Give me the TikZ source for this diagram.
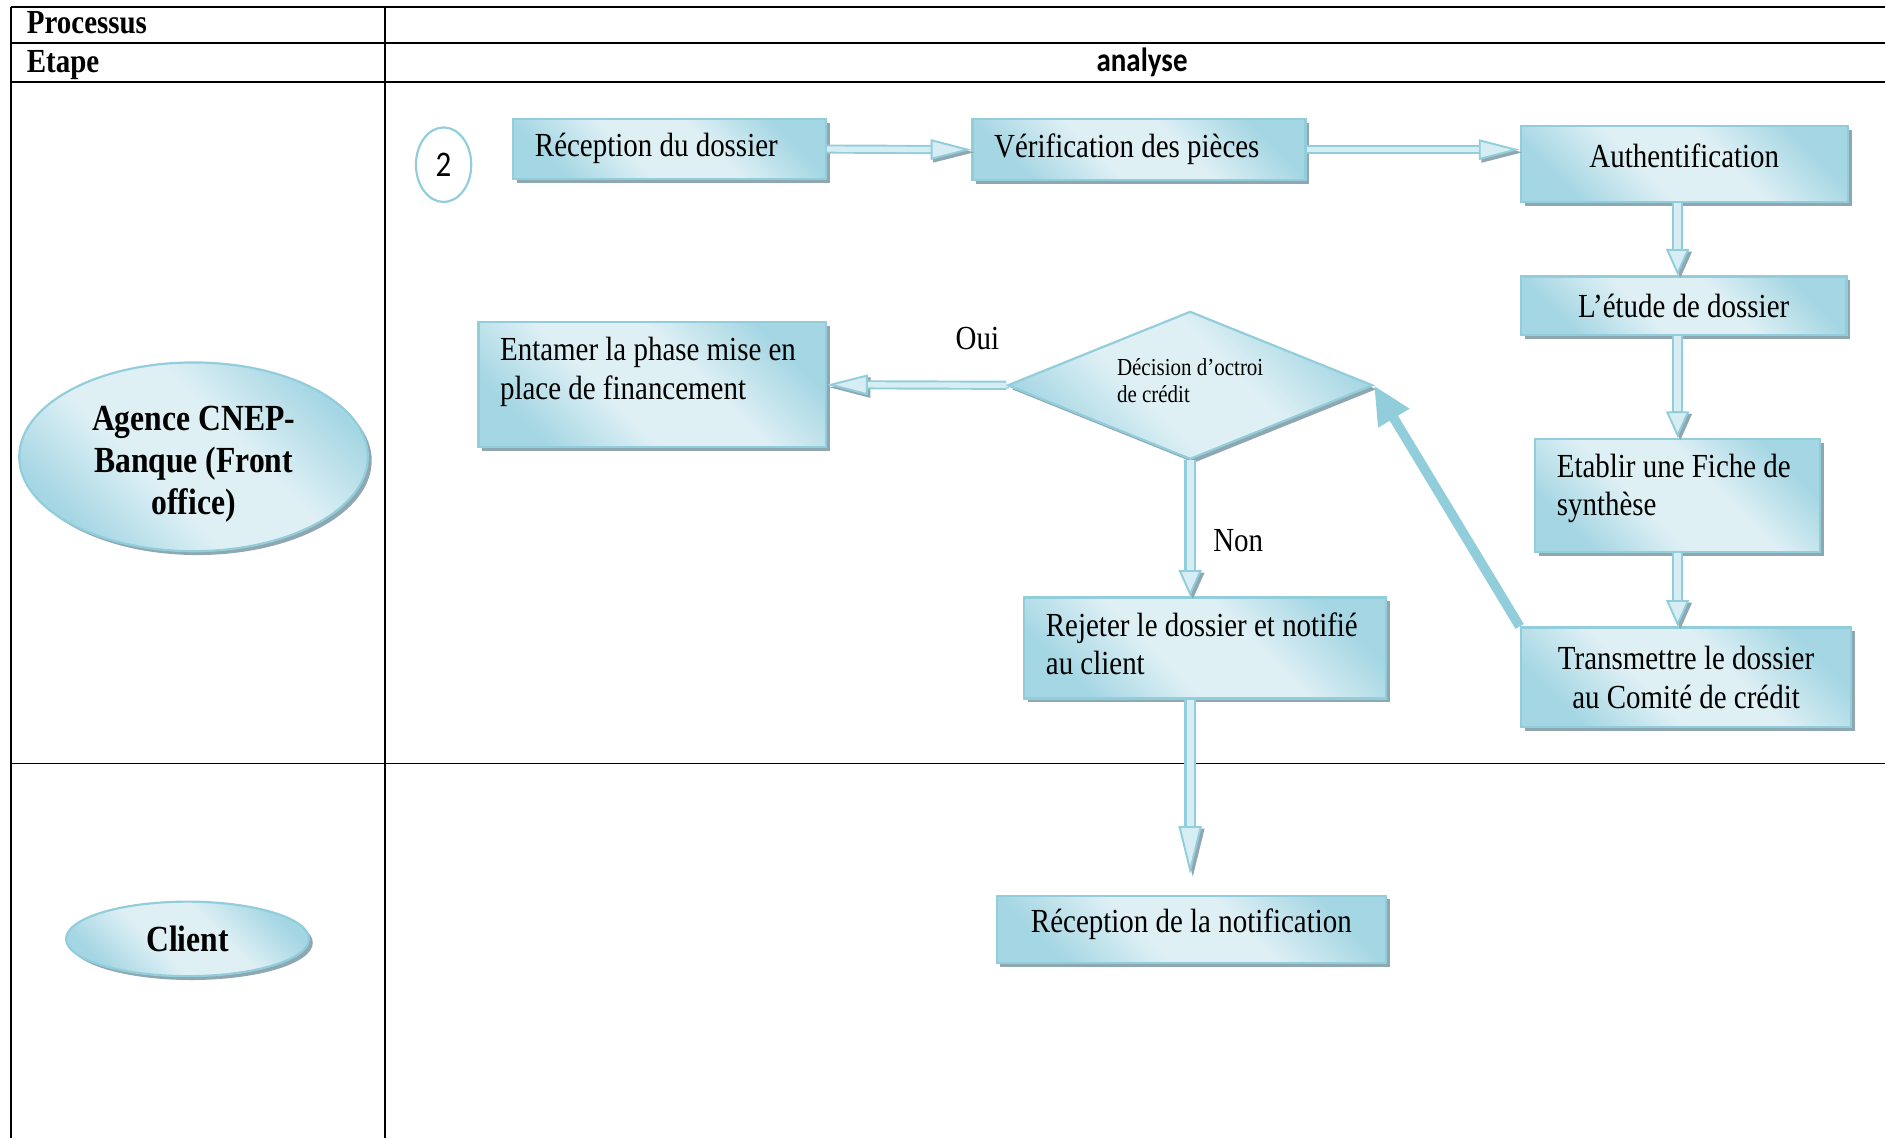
\documentclass[tikz,border=0pt]{standalone}
\usepackage{fontspec}
\setmainfont{Liberation Serif}[FakeStretch=0.86]
\newfontfamily\calibri{Carlito}[FakeStretch=0.86]
\usetikzlibrary{shapes.geometric,arrows.meta,shadows}

\definecolor{edgec}{HTML}{92CDDC}
\definecolor{shdark}{HTML}{A4D6E3}
\definecolor{shlight}{HTML}{DFF0F5}
\definecolor{shadowc}{HTML}{8EA7B1}
\definecolor{arrowin}{HTML}{D6EDF3}

\pgfdeclarehorizontalshading{bluebox}{100bp}{%
  color(0bp)=(shdark); color(25bp)=(shdark); color(42bp)=(shlight);
  color(58bp)=(shlight); color(75bp)=(shdark); color(100bp)=(shdark)}

% invisible rule that deepens the last line (moves the text block upwards)
\newcommand\padbelow[1]{\rule[-#1]{0pt}{#1}}
% left-aligned block of fixed width
\newcommand\leftblock[2]{\begin{tabular}{@{}p{#1}@{}}#2\end{tabular}}
\newcommand\bodyfont{\fontsize{14}{16}\selectfont}
\newcommand\lanefont{\fontsize{15.3}{17.5}\selectfont\bfseries}

\tikzset{
  gridline/.style={draw=black, line width=0.7pt},
  shadowed/.style={drop shadow={shadow xshift=1.6pt, shadow yshift=-1.6pt, fill=shadowc, opacity=1}},
  bluefill/.style={shade, shading=bluebox, shading angle=45},
  box/.style={rectangle, draw=edgec, line width=0.9pt, bluefill, shadowed,
    inner sep=0pt, font=\bodyfont, align=center},
  lbox/.style={rectangle, draw=edgec, line width=0.9pt, bluefill, shadowed,
    inner sep=0pt, font=\bodyfont},
  lane/.style={ellipse, draw=edgec, line width=0.9pt, bluefill, shadowed,
    inner sep=0pt, align=center, font=\lanefont},
  decision/.style={diamond, draw=edgec, line width=0.9pt, bluefill, shadowed,
    inner sep=0pt, align=left},
  hdr/.style={font=\fontsize{14}{16}\selectfont\bfseries, inner sep=0pt, anchor=base west},
  % hollow block arrow: head length, head width, shaft width, inner shaft width
  blockarrow/.style n args={4}{draw=edgec, line width=#3,
    -{Triangle[length=#1, width=#2, line width=0.8pt, fill=arrowin]},
    preaction={draw=shadowc, -{Triangle[length=#1, width=#2, line width=0.8pt, fill=shadowc]},
      transform canvas={shift={(1.1pt,-1.1pt)}}},
    postaction={draw=arrowin, line width=#4, -, shorten >=#1}},
  hflow/.style={blockarrow={17pt}{8.5pt}{3.8pt}{2.2pt}},
  vflow/.style={blockarrow={#1}{9.6pt}{4.8pt}{3.0pt}},
  vflow/.default=11pt,
  feedback/.style={draw=edgec, line width=4pt, -{Triangle[length=16pt, width=14pt]}},
}

\begin{document}
\begin{tikzpicture}[x=0.5pt, y=-0.5pt]
\useasboundingbox (0,0) rectangle (1568,947);

% table grid
\draw[gridline] (9,6) -- (1568,6);
\draw[gridline] (9,36) -- (1568,36);
\draw[gridline] (9,68) -- (1568,68);
\draw[gridline] (9,635) -- (1568,635);
\draw[gridline] (9,6) -- (9,947);
\draw[gridline] (320,6) -- (320,947);

\node[hdr] (proc) at (22,28) {Processus};
\node[hdr] (etape) at (22,60) {Etape};
\node[font=\calibri\fontsize{14}{16}\selectfont\bfseries, inner sep=0pt] (stage) at (950,52) {analyse};

% swimlane actors
\node[lane, minimum width=145pt, minimum height=78.5pt] (agence) at (161,380)
  {\rule{0pt}{16.4pt}Agence CNEP-\\Banque (Front\\office)};
\node[lane, minimum width=101pt, minimum height=31pt] (client) at (156,781) {Client};

% step number
\node[ellipse, draw=edgec, line width=0.9pt, fill=white, minimum width=23pt,
  minimum height=31pt, inner sep=0pt, font=\calibri\fontsize{15}{16}\selectfont]
  (num) at (369,137) {2};

% process steps
\node[lbox, minimum width=130pt, minimum height=25pt]
  (recep) at (557,124) {\leftblock{112pt}{Réception du dossier}};
\node[lbox, minimum width=138.5pt, minimum height=25.5pt]
  (verif) at (947.5,124.5) {\leftblock{120.5pt}{Vérification des pièces}};
\node[box, minimum width=136pt, minimum height=31.5pt]
  (auth) at (1401,136.5) {Authentification\padbelow{7pt}};
\node[box, minimum width=135.5pt, minimum height=24.5pt]
  (etude) at (1400.5,254.5) {L’étude de dossier};
\node[lbox, minimum width=118.5pt, minimum height=47pt]
  (fiche) at (1395.5,412) {\leftblock{100.5pt}{\mbox{Etablir une Fiche de}\\synthèse\padbelow{10pt}}};
\node[box, minimum width=137.5pt, minimum height=41.5pt]
  (trans) at (1402.5,563.5) {Transmettre le dossier\\au Comité de crédit};
\node[decision, minimum width=152pt, minimum height=61.5pt, aspect=2.47,
  font=\fontsize{10.15}{11.5}\selectfont]
  (dec) at (990,320.5) {Décision d’octroi\\de crédit\padbelow{4pt}};
\node[lbox, minimum width=144.5pt, minimum height=52pt]
  (entamer) at (542.5,320) {\leftblock{126.5pt}{\mbox{Entamer la phase mise en}\\place de financement\padbelow{15pt}}};
\node[lbox, minimum width=150.5pt, minimum height=42pt]
  (rejet) at (1002.5,539) {\leftblock{132.5pt}{\mbox{Rejeter le dossier et notifié}\\au client}};
\node[box, minimum width=162pt, minimum height=28pt]
  (notif) at (991,773) {Réception de la notification\padbelow{7pt}};

\node[font=\bodyfont, inner sep=0pt] (oui) at (813,282) {Oui};
\node[font=\bodyfont, inner sep=0pt] (non) at (1030,450) {Non};

% connectors
\path (notif.north -| dec.south) ++(0,8.5pt) coordinate (notifin);

\draw[hflow] (recep.east) -- (verif.west);
\draw[hflow] (verif.east) -- (verif.east -| auth.west);
\draw[vflow] (auth.south -| fiche.north) -- (etude.north -| fiche.north);
\draw[vflow] (etude.south -| fiche.north) -- (fiche.north);
\draw[vflow] (fiche.south) -- (trans.north -| fiche.south);
\draw[feedback] (trans.north west) -- (dec.east);
\draw[hflow] (dec.west) -- (entamer.east);
\draw[vflow] (dec.south) -- (dec.south |- rejet.north);
\draw[vflow=20pt] (rejet.south -| dec.south) -- (notifin);
\end{tikzpicture}
\end{document}
